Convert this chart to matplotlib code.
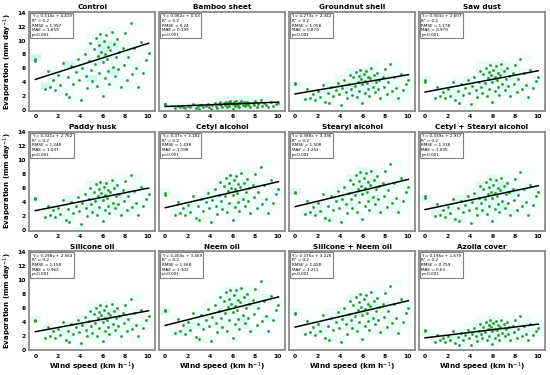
import numpy as np
import matplotlib
matplotlib.use('Agg')
import matplotlib.pyplot as plt
from matplotlib.colors import LinearSegmentedColormap

# daily wind speed (km/h), same days for every treatment
wind = [0.0, 0.0, 0.9, 1.1, 1.3, 1.6, 1.8, 2.0, 2.2, 2.5,
        2.7, 2.9, 3.0, 3.2, 3.4, 3.6, 3.8, 3.9, 4.1, 4.2,
        4.4, 4.5, 4.6, 4.8, 4.9, 5.0, 5.1, 5.2, 5.3, 5.4,
        5.5, 5.6, 5.7, 5.7, 5.8, 5.9, 6.0, 6.0, 6.1, 6.2,
        6.2, 6.3, 6.4, 6.5, 6.5, 6.6, 6.7, 6.8, 6.9, 7.0,
        7.1, 7.2, 7.3, 7.4, 7.5, 7.6, 7.8, 7.9, 8.0, 8.2,
        8.3, 8.5, 8.6, 8.8, 9.0, 9.2, 9.4, 9.6, 9.9, 10.1]

control = [7.3, 7.0, 3.0, 5.6, 3.4, 4.4, 2.9, 5.0, 3.6, 6.8,
           2.3, 4.7, 1.9, 6.3, 3.8, 5.5, 7.4, 4.3, 1.5, 6.0,
           8.1, 4.9, 3.2, 7.0, 9.6, 5.8, 4.2, 8.8, 6.6, 10.4,
           3.5, 7.8, 9.3, 5.3, 11.0, 8.4, 2.0, 6.9, 9.9, 4.6,
           8.0, 10.8, 7.3, 5.6, 9.1, 3.8, 8.6, 11.3, 6.2, 9.5,
           4.9, 7.7, 10.2, 5.9, 8.3, 3.4, 9.0, 6.5, 11.1, 4.4,
           7.6, 12.5, 5.2, 8.9, 6.1, 3.3, 9.8, 5.4, 7.2, 8.2]
bamboo = [0.88, 0.84, 0.36, 0.67, 0.41, 0.53, 0.35, 0.60, 0.43, 0.82,
          0.28, 0.56, 0.23, 0.76, 0.46, 0.66, 0.89, 0.52, 0.18, 0.72,
          0.97, 0.59, 0.38, 0.84, 1.15, 0.70, 0.50, 1.06, 0.79, 1.25,
          0.42, 0.94, 1.12, 0.64, 1.32, 1.01, 0.24, 0.83, 1.19, 0.55,
          0.96, 1.30, 0.88, 0.67, 1.09, 0.46, 1.03, 1.36, 0.74, 1.14,
          0.59, 0.92, 1.22, 0.71, 1.00, 0.41, 1.08, 0.78, 1.33, 0.53,
          0.91, 1.50, 0.62, 1.07, 0.73, 0.40, 1.18, 0.65, 0.86, 0.98]
groundnut = [3.9, 3.7, 1.6, 3.0, 1.8, 2.3, 1.5, 2.7, 1.9, 3.6,
             1.2, 2.5, 1.0, 3.3, 2.0, 2.9, 3.9, 2.3, 0.8, 3.2,
             4.3, 2.6, 1.7, 3.7, 5.1, 3.1, 2.2, 4.7, 3.5, 5.5,
             1.9, 4.1, 4.9, 2.8, 5.8, 4.5, 1.1, 3.7, 5.2, 2.4,
             4.2, 5.7, 3.9, 3.0, 4.8, 2.0, 4.6, 6.0, 3.3, 5.0,
             2.6, 4.1, 5.4, 3.1, 4.4, 1.8, 4.8, 3.4, 5.9, 2.3,
             4.0, 6.6, 2.8, 4.7, 3.2, 1.7, 5.2, 2.9, 3.8, 4.3]
sawdust = [4.3, 4.1, 1.8, 3.3, 2.0, 2.6, 1.7, 3.0, 2.1, 4.0,
           1.4, 2.8, 1.1, 3.7, 2.2, 3.2, 4.4, 2.5, 0.9, 3.5,
           4.8, 2.9, 1.9, 4.1, 5.7, 3.4, 2.5, 5.2, 3.9, 6.1,
           2.1, 4.6, 5.5, 3.1, 6.5, 5.0, 1.2, 4.1, 5.8, 2.7,
           4.7, 6.4, 4.3, 3.3, 5.4, 2.2, 5.1, 6.7, 3.7, 5.6,
           2.9, 4.5, 6.0, 3.5, 4.9, 2.0, 5.3, 3.8, 6.5, 2.6,
           4.5, 7.4, 3.1, 5.3, 3.6, 1.9, 5.8, 3.2, 4.2, 4.8]
paddy = [4.6, 4.4, 1.9, 3.5, 2.1, 2.8, 1.8, 3.2, 2.3, 4.3,
         1.4, 3.0, 1.2, 4.0, 2.4, 3.5, 4.7, 2.7, 0.9, 3.8,
         5.1, 3.1, 2.0, 4.4, 6.0, 3.7, 2.6, 5.5, 4.2, 6.6,
         2.2, 4.9, 5.9, 3.3, 6.9, 5.3, 1.3, 4.3, 6.2, 2.9,
         5.0, 6.8, 4.6, 3.5, 5.7, 2.4, 5.4, 7.1, 3.9, 6.0,
         3.1, 4.9, 6.4, 3.7, 5.2, 2.1, 5.7, 4.1, 7.0, 2.8,
         4.8, 7.9, 3.3, 5.6, 3.8, 2.1, 6.2, 3.4, 4.5, 5.2]
cetyl = [5.3, 5.0, 2.2, 4.0, 2.4, 3.2, 2.1, 3.6, 2.6, 4.9,
         1.7, 3.4, 1.4, 4.5, 2.7, 4.0, 5.3, 3.1, 1.1, 4.3,
         5.8, 3.5, 2.3, 5.0, 6.9, 4.2, 3.0, 6.3, 4.8, 7.5,
         2.5, 5.6, 6.7, 3.8, 7.9, 6.0, 1.4, 5.0, 7.1, 3.3,
         5.8, 7.8, 5.3, 4.0, 6.6, 2.7, 6.2, 8.1, 4.5, 6.8,
         3.5, 5.5, 7.3, 4.2, 6.0, 2.4, 6.5, 4.7, 8.0, 3.2,
         5.5, 9.0, 3.7, 6.4, 4.4, 2.4, 7.1, 3.9, 5.2, 5.9]
stearyl = [5.5, 5.3, 2.3, 4.2, 2.6, 3.3, 2.2, 3.8, 2.7, 5.1,
           1.7, 3.5, 1.4, 4.8, 2.9, 4.2, 5.6, 3.2, 1.1, 4.5,
           6.1, 3.7, 2.4, 5.3, 7.2, 4.4, 3.2, 6.6, 5.0, 7.9,
           2.6, 5.9, 7.0, 4.0, 8.3, 6.3, 1.5, 5.2, 7.5, 3.5,
           6.0, 8.2, 5.5, 4.2, 6.9, 2.9, 6.5, 8.5, 4.7, 7.2,
           3.7, 5.8, 7.7, 4.5, 6.3, 2.6, 6.8, 4.9, 8.4, 3.3,
           5.7, 9.4, 3.9, 6.7, 4.6, 2.5, 7.4, 4.1, 5.4, 6.2]
cetyl_stearyl = [4.8, 4.6, 2.0, 3.7, 2.2, 2.9, 1.9, 3.3, 2.4, 4.5,
                 1.5, 3.1, 1.3, 4.2, 2.5, 3.6, 4.9, 2.8, 1.0, 4.0,
                 5.3, 3.2, 2.1, 4.6, 6.3, 3.8, 2.8, 5.8, 4.4, 6.9,
                 2.3, 5.1, 6.1, 3.5, 7.3, 5.5, 1.3, 4.6, 6.5, 3.0,
                 5.3, 7.1, 4.8, 3.7, 6.0, 2.5, 5.7, 7.5, 4.1, 6.3,
                 3.2, 5.1, 6.7, 3.9, 5.5, 2.2, 5.9, 4.3, 7.3, 2.9,
                 5.0, 8.3, 3.4, 5.9, 4.0, 2.2, 6.5, 3.6, 4.8, 5.4]
silicone = [4.2, 4.1, 1.7, 3.2, 2.0, 2.6, 1.7, 2.9, 2.1, 3.9,
            1.3, 2.7, 1.1, 3.7, 2.2, 3.2, 4.3, 2.5, 0.9, 3.5,
            4.7, 2.8, 1.9, 4.1, 5.6, 3.4, 2.4, 5.1, 3.8, 6.0,
            2.0, 4.5, 5.4, 3.1, 6.4, 4.9, 1.2, 4.0, 5.7, 2.7,
            4.6, 6.3, 4.2, 3.2, 5.3, 2.2, 5.0, 6.6, 3.6, 5.5,
            2.8, 4.5, 5.9, 3.4, 4.8, 2.0, 5.2, 3.8, 6.4, 2.6,
            4.4, 7.3, 3.0, 5.2, 3.5, 1.9, 5.7, 3.1, 4.2, 4.8]
neem = [5.7, 5.5, 2.4, 4.4, 2.7, 3.5, 2.3, 3.9, 2.8, 5.3,
        1.8, 3.7, 1.5, 4.9, 3.0, 4.3, 5.8, 3.4, 1.2, 4.7,
        6.4, 3.8, 2.5, 5.5, 7.5, 4.6, 3.3, 6.9, 5.2, 8.2,
        2.7, 6.1, 7.3, 4.2, 8.6, 6.6, 1.6, 5.4, 7.8, 3.6,
        6.3, 8.5, 5.7, 4.4, 7.1, 3.0, 6.8, 8.9, 4.9, 7.5,
        3.8, 6.0, 8.0, 4.6, 6.5, 2.7, 7.1, 5.1, 8.7, 3.5,
        6.0, 9.8, 4.1, 7.0, 4.8, 2.6, 7.7, 4.2, 5.7, 6.4]
silicone_neem = [5.3, 5.1, 2.2, 4.1, 2.5, 3.2, 2.1, 3.7, 2.6, 5.0,
                 1.7, 3.4, 1.4, 4.6, 2.8, 4.0, 5.4, 3.1, 1.1, 4.4,
                 5.9, 3.6, 2.3, 5.1, 7.0, 4.2, 3.1, 6.4, 4.8, 7.6,
                 2.6, 5.7, 6.8, 3.9, 8.0, 6.1, 1.5, 5.0, 7.2, 3.4,
                 5.8, 7.9, 5.3, 4.1, 6.6, 2.8, 6.3, 8.2, 4.5, 6.9,
                 3.6, 5.6, 7.4, 4.3, 6.1, 2.5, 6.6, 4.7, 8.1, 3.2,
                 5.5, 9.1, 3.8, 6.5, 4.5, 2.4, 7.2, 3.9, 5.3, 6.0]
azolla = [2.8, 2.7, 1.1, 2.1, 1.3, 1.7, 1.1, 1.9, 1.4, 2.6,
          0.9, 1.8, 0.7, 2.4, 1.4, 2.1, 2.8, 1.6, 0.6, 2.3,
          3.1, 1.9, 1.2, 2.7, 3.6, 2.2, 1.6, 3.3, 2.5, 4.0,
          1.3, 3.0, 3.5, 2.0, 4.2, 3.2, 0.8, 2.6, 3.8, 1.7,
          3.0, 4.1, 2.8, 2.1, 3.5, 1.4, 3.3, 4.3, 2.4, 3.6,
          1.9, 2.9, 3.9, 2.2, 3.2, 1.3, 3.4, 2.5, 4.2, 1.7,
          2.9, 4.8, 2.0, 3.4, 2.3, 1.3, 3.7, 2.1, 2.7, 3.1]

titles = ['Control', 'Bamboo sheet', 'Groundnut shell', 'Saw dust',
          'Paddy husk', 'Cetyl alcohol', 'Stearyl alcohol', 'Cetyl + Stearyl alcohol',
          'Silicone oil', 'Neem oil', 'Silicone + Neem oil', 'Azolla cover']
evap = [control, bamboo, groundnut, sawdust,
        paddy, cetyl, stearyl, cetyl_stearyl,
        silicone, neem, silicone_neem, azolla]
slopes = [0.514, 0.062, 0.273, 0.303, 0.321, 0.37, 0.388, 0.339, 0.298, 0.404, 0.375, 0.195]
intercepts = [4.419, 0.53, 2.342, 2.607, 2.762, 3.182, 3.336, 2.917, 2.563, 3.469, 3.226, 1.679]
rmse = ['1.997', '0.24', '1.058', '1.178', '1.248', '1.438', '1.508', '1.318', '1.158', '1.568', '1.458', '0.759']
mae = ['1.659', '0.199', '0.879', '0.979', '1.037', '1.198', '1.252', '1.095', '0.962', '1.302', '1.211', '0.63']
r2 = '0.2'
pval = 'p<0.001'

cyan = LinearSegmentedColormap.from_list('cy', ['#effffb', '#d0f8ee'])

fig, axes = plt.subplots(3, 4, figsize=(5.5, 3.75), dpi=100, sharey=True)
fig.subplots_adjust(left=0.053, right=0.991, top=0.968, bottom=0.066, wspace=0.03, hspace=0.21)

x = np.array(wind)
for i, ax in enumerate(axes.flat):
    y = np.array(evap[i])
    ax.hist2d(x, y, bins=[np.arange(-0.5, 11, 1.0), np.arange(0, 14.5, 1.0)],
              cmap=cyan, cmin=1, zorder=0)
    ax.scatter(x, y, s=3, c='#1f9a1f', edgecolors='#2f6f2f', linewidths=0.2, zorder=2)
    xl = np.array([x.min(), x.max()])
    ax.plot(xl, slopes[i] * xl + intercepts[i], color='black', lw=1.1, zorder=3)
    txt = 'Y = %sx + %s\nR\u00b2 = %s\nRMSE = %s\nMAE = %s\n%s' % (
        slopes[i], intercepts[i], r2, rmse[i], mae[i], pval)
    ax.text(0.02, 0.975, txt, transform=ax.transAxes, fontsize=3.0, va='top', ha='left',
            linespacing=1.2,
            bbox=dict(boxstyle='square,pad=0.35', facecolor='white', edgecolor='#808080', lw=0.8),
            zorder=4)
    ax.set_title(titles[i], fontsize=5.2, fontweight='bold', pad=2)
    ax.set_xlim(-0.55, 10.7)
    ax.set_ylim(-0.1, 14.1)
    ax.set_xticks(range(0, 11, 2))
    ax.set_yticks(range(0, 15, 2))
    ax.tick_params(labelsize=4.3, length=0, pad=2.5)
    for lab in ax.get_xticklabels() + ax.get_yticklabels():
        lab.set_fontweight('bold')
    for sp in ax.spines.values():
        sp.set_color('#8c8c8c')
        sp.set_linewidth(1.3)
    if i % 4 == 0:
        ax.set_ylabel('Evaporation (mm day$^{-1}$)', fontsize=5.0, fontweight='bold', labelpad=2)
    if i >= 8:
        ax.set_xlabel('Wind speed (km h$^{-1}$)', fontsize=5.2, fontweight='bold', labelpad=1.5)

fig.savefig('out.png', dpi=100)
